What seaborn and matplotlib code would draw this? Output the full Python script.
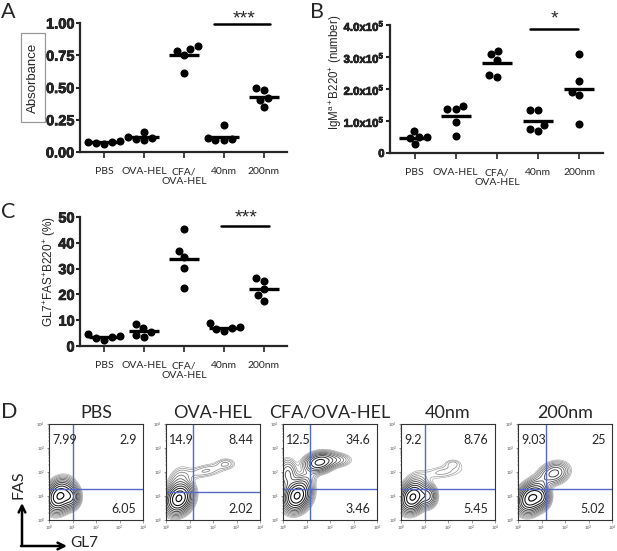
import numpy as np
import pandas as pd
import matplotlib
matplotlib.use('Agg')
import matplotlib.pyplot as plt
import matplotlib.patheffects as pe
from matplotlib.patches import Rectangle
import seaborn as sns

# ---- data ----
groups = ['PBS', 'OVA-HEL', 'CFA/\nOVA-HEL', '40nm', '200nm']

# A: absorbance
abs_pbs = [0.065, 0.07, 0.075, 0.08, 0.085]
abs_ova = [0.155, 0.12, 0.105, 0.10, 0.09]
abs_cfa = [0.82, 0.80, 0.786, 0.755, 0.61]
abs_40 = [0.21, 0.105, 0.10, 0.095, 0.09]
abs_200 = [0.495, 0.477, 0.417, 0.40, 0.346]

# B: IgMa+B220+ number (x1e5)
num_pbs = [0.69, 0.49, 0.49, 0.47, 0.27]
num_ova = [1.47, 1.38, 1.36, 0.98, 0.53]
num_cfa = [3.19, 3.08, 2.91, 2.44, 2.39]
num_40 = [1.34, 1.34, 0.88, 0.75, 0.70]
num_200 = [3.09, 2.25, 1.92, 1.81, 0.91]

# C: GL7+FAS+B220+ (%)
gc_pbs = [4.5, 3.8, 3.4, 3.0, 2.2]
gc_ova = [8.4, 6.8, 5.5, 4.3, 3.6]
gc_cfa = [45.2, 37.0, 34.5, 30.4, 22.3]
gc_40 = [8.8, 7.5, 7.0, 6.5, 6.0]
gc_200 = [26.5, 25.1, 21.9, 19.7, 17.4]

# D: flow plots
flow_titles = ['PBS', 'OVA-HEL', 'CFA/OVA-HEL', '40nm', '200nm']
q_ul = ['7.99', '14.9', '12.5', '9.2', '9.03']
q_ur = ['2.9', '8.44', '34.6', '8.76', '25']
q_lr = ['6.05', '2.02', '3.46', '5.45', '5.02']
gate_gl7 = [1.03, 1.16, 1.15, 1.03, 1.19]   # log10 gate positions
gate_fas = [1.29, 1.15, 1.29, 1.29, 1.29]
# populations per plot: (log GL7, log FAS, sd x, sd y, corr, weight)
pops = [
    [(0.45, 1.0, 0.3, 0.34, 0.2, 1.0), (0.95, 0.95, 0.2, 0.25, 0.0, 0.4)],
    [(0.55, 0.9, 0.3, 0.33, 0.2, 1.0), (0.55, 1.7, 0.28, 0.33, 0.3, 0.08),
     (1.7, 2.05, 0.55, 0.2, 0.5, 0.07), (2.55, 2.35, 0.25, 0.14, 0.0, 0.06)],
    [(0.6, 1.0, 0.3, 0.33, 0.2, 1.0), (1.55, 2.4, 0.35, 0.22, 0.2, 0.55),
     (0.2, 1.9, 0.22, 0.35, 0.0, 0.2), (2.3, 2.5, 0.35, 0.16, 0.0, 0.12),
     (0.9, 1.6, 0.3, 0.3, 0.5, 0.1)],
    [(0.5, 0.95, 0.29, 0.32, 0.2, 1.0), (1.15, 1.0, 0.2, 0.25, 0.0, 0.35),
     (1.8, 2.0, 0.6, 0.2, 0.4, 0.055), (2.2, 2.35, 0.22, 0.12, 0.0, 0.05),
     (0.6, 1.6, 0.3, 0.3, 0.3, 0.05)],
    [(0.55, 0.9, 0.3, 0.32, 0.2, 1.0), (1.0, 0.95, 0.2, 0.25, 0.0, 0.4),
     (1.55, 1.95, 0.33, 0.25, 0.2, 0.3), (0.9, 1.5, 0.3, 0.3, 0.4, 0.1)],
]

W, H = 617, 551
sns.set_style('ticks')
plt.rcParams['font.family'] = ['Liberation Sans', 'DejaVu Sans']
plt.rcParams['mathtext.fontset'] = 'custom'
plt.rcParams['mathtext.rm'] = 'Liberation Sans'
plt.rcParams['mathtext.bf'] = 'Liberation Sans:bold'

fig = plt.figure(figsize=(W / 100, H / 100), dpi=100)
heavy = [pe.withStroke(linewidth=0.5, foreground='black')]


def px_axes(l, t, r, b):
    return fig.add_axes([l / W, 1 - b / H, (r - l) / W, (b - t) / H])


def ftext(x, y, s, **kw):
    fig.text(x / W, 1 - y / H, s, **kw)


def dot_panel(ax, values, ymax, yticks, yticklabels, tick_fs):
    df = pd.DataFrame({'group': np.repeat(groups, 5),
                       'value': np.concatenate(values)})
    sns.swarmplot(data=df, x='group', y='value', order=groups, color='black',
                  size=5.8, ax=ax, warn_thresh=1)
    means = df.groupby('group', sort=False)['value'].mean().reindex(groups)
    pos = np.arange(len(groups))
    ax.hlines(means.values, pos - 0.37, pos + 0.37, color='black', lw=2.4)
    ax.set_xlim(-0.6, 4.58)
    ax.set_ylim(0, ymax)
    sns.despine(ax=ax)
    for s in ['left', 'bottom']:
        ax.spines[s].set_linewidth(1.6)
    ax.tick_params(axis='y', length=3, width=1.5, pad=0.8)
    ax.tick_params(axis='x', length=4, width=1.2, pad=7)
    ax.set_yticks(yticks)
    ax.set_yticklabels(yticklabels)
    for t in ax.get_yticklabels():
        t.set_family('Liberation Sans')
        t.set_fontweight('bold')
        t.set_fontsize(tick_fs)
        t.set_path_effects(heavy)
    ax.set_xticks(pos)
    ax.set_xticklabels(groups)
    for t in ax.get_xticklabels():
        t.set_family('Lato')
        t.set_fontsize(7.5)
        t.set_linespacing(1.05)
    ax.set_xlabel('')
    ax.set_ylabel('')


def sig_bar(ax, x0, x1, y, ystar, xstar, stars):
    ax.plot([x0, x1], [y, y], color='black', lw=1.8, clip_on=False)
    ax.text(xstar, ystar, stars, ha='center', va='center', fontsize=14,
            clip_on=False)


# ---- A ----
axA = px_axes(80, 23, 287, 152)
dot_panel(axA, [abs_pbs, abs_ova, abs_cfa, abs_40, abs_200], 1.0,
          [0, 0.25, 0.5, 0.75, 1.0], ['0.00', '0.25', '0.50', '0.75', '1.00'], 10.5)
sig_bar(axA, 2.75, 4.16, 0.995, 1.035, 3.5, '***')
fig.patches.append(Rectangle((21 / W, 1 - 122 / H), 24 / W, 89 / H,
                             transform=fig.transFigure, fc='white',
                             ec='#999999', lw=0.9))
ftext(33, 78, 'Absorbance', rotation=90, ha='center', va='center', fontsize=9.5)

# ---- B ----
axB = px_axes(390, 25, 603, 153)
dot_panel(axB, [num_pbs, num_ova, num_cfa, num_40, num_200], 4.0,
          [0, 1, 2, 3, 4],
          ['0'] + [r'%d.0x10$^{\mathbf{5}}$' % k for k in range(1, 5)], 8.2)
sig_bar(axB, 2.8, 3.98, 3.87, 4.2, 3.39, '*')
ftext(336, 72, r'IgM$^{\mathrm{a+}}$B220$^{+}$ (number)', rotation=90,
      ha='center', va='center', fontsize=8.3)

# ---- C ----
axC = px_axes(80, 217, 287, 346)
dot_panel(axC, [gc_pbs, gc_ova, gc_cfa, gc_40, gc_200], 50,
          [0, 10, 20, 30, 40, 50], ['0', '10', '20', '30', '40', '50'], 10.5)
sig_bar(axC, 2.94, 4.13, 46.7, 49.6, 3.55, '***')
ftext(49.5, 271, r'GL7$^{+}$FAS$^{+}$B220$^{+}$ (%)', rotation=90,
      ha='center', va='center', fontsize=8.5)

# ---- panel letters ----
for lab, x, y in [('A', 8.5, 12.5), ('B', 317, 12.5), ('C', 8.5, 212), ('D', 9, 412)]:
    ftext(x, y, lab, ha='center', va='center', fontsize=15.5, family='Lato')

# ---- D: flow contour plots ----
grid = np.linspace(0, 4, 240)
gx, gy = np.meshgrid(grid, grid)
box_left = [49, 166, 283, 401, 518]
minor = np.log10(np.outer([1, 10, 100, 1000], np.arange(2, 10)).ravel())
for i in range(5):
    ax = px_axes(box_left[i], 424, box_left[i] + 94, 520)
    z = np.zeros_like(gx)
    for cx, cy, sx, sy, rho, w in pops[i]:
        dx = (gx - cx) / sx
        dy = (gy - cy) / sy
        z += w * np.exp(-(dx * dx - 2 * rho * dx * dy + dy * dy) / (2 * (1 - rho ** 2)))
    n = 12
    levels = np.geomspace(0.025, 0.92, n) * z.max()
    cols = [plt.cm.Greys(0.45 + 0.55 * k / (n - 1)) for k in range(n)]
    lws = [0.45 + 0.35 * k / (n - 1) for k in range(n)]
    ax.contour(gx, gy, z, levels=levels, colors=cols, linewidths=lws)
    ax.axvline(gate_gl7[i], color='#5468c8', lw=1.0)
    ax.axhline(gate_fas[i], color='#5468c8', lw=1.0)
    ax.set_xlim(0, 4)
    ax.set_ylim(0, 4)
    ticks = [0, 1, 2, 3, 4]
    tl = [r'10$^{%d}$' % t for t in ticks]
    ax.set_xticks(ticks)
    ax.set_yticks(ticks)
    ax.set_xticklabels(tl, fontsize=3.2)
    ax.set_yticklabels(tl, fontsize=3.2)
    ax.set_xticks(minor, minor=True)
    ax.set_yticks(minor, minor=True)
    ax.tick_params(which='major', length=1.8, width=0.4, pad=1, colors='#555555')
    ax.tick_params(which='minor', length=1.0, width=0.3, colors='#555555')
    for s in ax.spines.values():
        s.set_linewidth(0.8)
        s.set_color('#333333')
    ax.text(0.5, 1.115, flow_titles[i], transform=ax.transAxes, ha='center',
            va='center', fontsize=13, family='Lato')
    ax.text(0.035, 0.835, q_ul[i], transform=ax.transAxes, ha='left',
            va='center', fontsize=9, family='Lato')
    ax.text(0.93, 0.835, q_ur[i], transform=ax.transAxes, ha='right',
            va='center', fontsize=9, family='Lato')
    ax.text(0.93, 0.115, q_lr[i], transform=ax.transAxes, ha='right',
            va='center', fontsize=9, family='Lato')

# axis arrows for D
arrow = dict(arrowstyle='->', lw=1.8, color='black', mutation_scale=12,
             shrinkA=0, shrinkB=0)
plt.annotate('', xy=(22, H - 503), xytext=(22, H - 546),
             xycoords='figure pixels', textcoords='figure pixels', arrowprops=arrow)
plt.annotate('', xy=(67, H - 546), xytext=(21, H - 546),
             xycoords='figure pixels', textcoords='figure pixels', arrowprops=arrow)
ftext(18, 485, 'FAS', rotation=90, ha='center', va='center', fontsize=11.5, family='Lato')
ftext(84, 543, 'GL7', ha='center', va='center', fontsize=11, family='Lato')

fig.savefig('out.png', dpi=100)
